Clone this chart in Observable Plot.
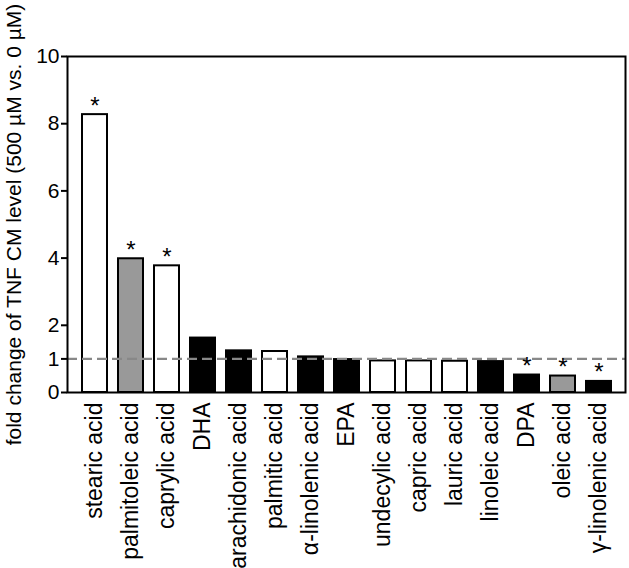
<!DOCTYPE html>
<html>
<head>
<meta charset="utf-8">
<script src="https://cdn.jsdelivr.net/npm/d3@7"></script>
<script src="https://cdn.jsdelivr.net/npm/@observablehq/plot@0.6"></script>
<style>
  html, body { margin: 0; padding: 0; background: #fff; }
  #chart svg { display: block; }
</style>
</head>
<body>
<div id="chart"></div>
<script>
const acids = ["stearic acid", "palmitoleic acid", "caprylic acid", "DHA", "arachidonic acid",
  "palmitic acid", "α-linolenic acid", "EPA", "undecylic acid", "capric acid", "lauric acid",
  "linoleic acid", "DPA", "oleic acid", "γ-linolenic acid"];
const foldChange = [8.27, 3.98, 3.77, 1.62, 1.24, 1.22, 1.06, 0.98, 0.94, 0.94, 0.93, 0.92, 0.52, 0.49, 0.33];
const saturation = ["saturated", "mono", "saturated", "poly", "poly", "saturated", "poly", "poly",
  "saturated", "saturated", "saturated", "poly", "poly", "mono", "poly"];
const significant = [true, true, true, false, false, false, false, false, false, false, false, false, true, true, true];
const yTicks = [0, 1, 2, 4, 6, 8, 10];
const baseline = [1];
const yLabel = "fold change of TNF CM level (500 µM vs. 0 µM)";

const data = acids.map((name, i) => ({name, value: foldChange[i], type: saturation[i], sig: significant[i]}));

const chart = Plot.plot({
  width: 629,
  height: 568,
  marginLeft: 67,
  marginRight: 4,
  marginTop: 56,
  marginBottom: 176,
  style: {fontFamily: "'Liberation Sans', Arial, sans-serif", color: "#000", background: "#fff"},
  x: {domain: acids, paddingInner: 0.31, paddingOuter: 0.38, label: null},
  y: {domain: [0, 10], label: null},
  color: {domain: ["saturated", "mono", "poly"], range: ["#ffffff", "#999999", "#000000"]},
  marks: [
    Plot.barY(data, {x: "name", y: "value", fill: "type", stroke: "#000", strokeWidth: 2}),
    Plot.ruleY(baseline, {stroke: "#888888", strokeWidth: 2.2, strokeDasharray: "10,5"}),
    Plot.text(data.filter(d => d.sig), {x: "name", y: "value", text: () => "*", fontSize: 24, lineAnchor: "bottom", dy: -1}),
    Plot.frame({stroke: "#000", strokeWidth: 2}),
    Plot.axisY({ticks: yTicks, tickSize: 6, tickPadding: 2, fontSize: 21, strokeWidth: 2,
      label: yLabel, labelAnchor: "center", labelOffset: 61, labelArrow: "none"}),
    Plot.axisX({tickSize: 0, tickPadding: 10, tickRotate: -90, fontSize: 23, label: null})
  ]
});
document.getElementById("chart").appendChild(chart);
</script>
</body>
</html>
